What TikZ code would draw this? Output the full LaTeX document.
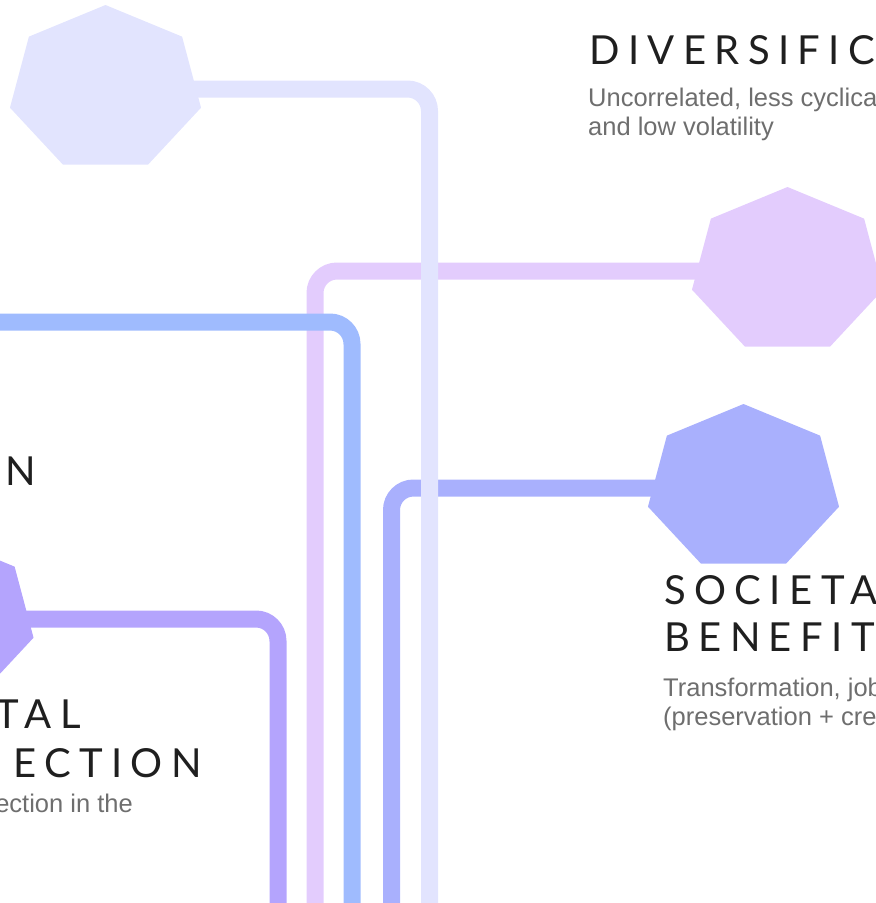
\documentclass[tikz,border=0pt]{standalone}
\usepackage{fontspec}
\setmainfont{Liberation Sans}
\newfontfamily\titlefont[LetterSpace=21]{Lato}
\usepackage{xcolor}
\definecolor{lavender}{HTML}{E2E4FE}
\definecolor{orchid}{HTML}{E3CCFD}
\definecolor{skyblue}{HTML}{9FBBFE}
\definecolor{periwinkle}{HTML}{A9B0FD}
\definecolor{violet}{HTML}{B4A4FD}
\definecolor{ink}{HTML}{1F1F1F}
\definecolor{subgray}{HTML}{6E6E6E}

% filled heptagon around a named coordinate
\newcommand{\heptagon}[2]{%
  \fill[#2, shift={(#1)}] (270:98 and 84)
    \foreach \k in {1,...,6} { -- (270+\k*360/7:98 and 84) } -- cycle;}

\begin{document}
\begin{tikzpicture}[
    x=1pt, y=-1pt,
    track/.style={line width=17pt, rounded corners=22pt},
    head/.style={inner sep=0pt, text=ink, align=left, font=\titlefont\fontsize{40}{47}\selectfont},
    blurb/.style={inner sep=0pt, text=subgray, align=left, font=\fontsize{25.5}{29}\selectfont},
]
    \useasboundingbox (0,0) rectangle (876,903);
    \clip (0,0) rectangle (876,903);

    \coordinate (div) at (105.5,89);
    \coordinate (unc) at (787.5,271);
    \coordinate (soc) at (743.5,488);
    \coordinate (cap) at (-62,619);
    \coordinate (inf) at (-20,322);

    \coordinate (divend) at (429.5,920);
    \coordinate (uncend) at (315,920);
    \coordinate (infend) at (352,920);
    \coordinate (socend) at (391.5,920);
    \coordinate (capend) at (278,920);

    % tracks, the palest one on top
    \draw[track, orchid] (unc) -| (uncend);
    \draw[track, skyblue] (inf) -| (infend);
    \draw[track, periwinkle] (soc) -| (socend);
    \draw[track, violet] (cap) -| (capend);
    \draw[track, lavender] (div) -| (divend);

    \heptagon{div}{lavender}
    \heptagon{unc}{orchid}
    \heptagon{soc}{periwinkle}
    \heptagon{cap}{violet}

    \node[head, anchor=north west] (divt) at (589,35) {DIVERSIFIC};
    \node[blurb, anchor=north west] (divs) at (588,88) {Uncorrelated, less cyclica\\and low volatility};

    \node[head, anchor=north west] (soct) at (664,575) {SOCIETA\\BENEFIT};
    \node[blurb, anchor=north west] (socs) at (663,678) {Transformation, job\\(preservation + cre};

    \node[head, anchor=base east] (inft) at (36,485) {N};
    \node[head, anchor=base east] (capt1) at (81,728) {TAL};
    \node[head, anchor=base east] (capt2) at (202,777) {ECTION};
    \node[blurb, anchor=base east] (caps) at (133,812) {ection in the};
\end{tikzpicture}
\end{document}
